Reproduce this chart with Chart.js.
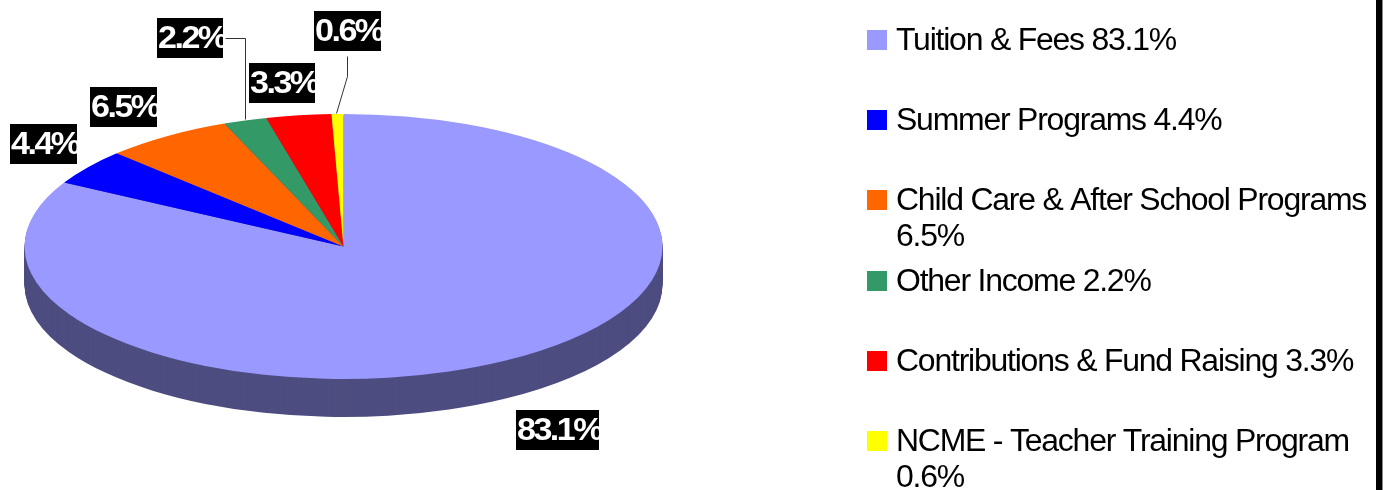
<!DOCTYPE html>
<html><head><meta charset="utf-8">
<style>html,body{margin:0;padding:0;background:#fff}canvas{display:block}</style>
<script src="https://cdn.jsdelivr.net/npm/chart.js@4/dist/chart.umd.min.js"></script>
</head><body><canvas id="c" width="1387" height="490"></canvas>
<script>
const categories = ['Tuition & Fees','Summer Programs','Child Care & After School Programs','Other Income','Contributions & Fund Raising','NCME - Teacher Training Program'];
const values = [83.1,4.4,6.5,2.2,3.3,0.6];
const colors = ['#9999FF','#0000FF','#FF6600','#339966','#FF0000','#FFFF00'];
const sideColor = '#4D4D80';
const FONT = '"Liberation Sans", Arial, sans-serif';
const PIE = {cx:343.5, cy:246.5, rx:319, ry:132.5, depth:38};
const labelBoxes = [[516,410,83,40],[10,124,67,40],[90,87,67,40],[157,18,66,40],[249,63,66,40],[314,11,67,40]];
const leaders = [null,null,null,[[225,38],[245,38],[245,119]],null,[[347,56],[347,76],[336,113]]];
const legendRows = [
  {y:40},{y:120},{y:200},{y:281},{y:361},{y:441}
];
const wrapAt = [null,null,true,null,null,true];

function applyPie(ctx, arc, dy){
  const k = PIE.ry/PIE.rx;
  ctx.translate(PIE.cx - arc.x, PIE.cy + dy - arc.y*k);
  ctx.scale(1,k);
}
function stretchedText(ctx, text, x, y, sx){
  ctx.save(); ctx.translate(x,y); ctx.scale(sx,1); ctx.fillText(text,0,0); ctx.restore();
}
const pie3d = {
  id:'pie3d',
  beforeDatasetDraw(chart){
    const ctx = chart.ctx, arcs = chart.getDatasetMeta(0).data;
    for(let d=PIE.depth;d>=1;d--){
      arcs.forEach(a=>{
        const o = a.options;
        const dark = Object.create(o);
        dark.backgroundColor = sideColor;
        dark.borderWidth = 0;
        a.options = dark;
        ctx.save(); applyPie(ctx,a,d); a.draw(ctx); ctx.restore();
        a.options = o;
      });
    }
    ctx.save(); applyPie(ctx,arcs[0],0);
  },
  afterDatasetDraw(chart){
    chart.ctx.restore();
  },
  afterDraw(chart){
    const ctx = chart.ctx;
    ctx.save();
    ctx.strokeStyle='#333'; ctx.lineWidth=1;
    leaders.forEach(l=>{
      if(!l) return;
      ctx.beginPath();
      l.forEach((p,i)=> i? ctx.lineTo(p[0]+.5,p[1]+.5):ctx.moveTo(p[0]+.5,p[1]+.5));
      ctx.stroke();
    });
    ctx.restore();
    values.forEach((v,i)=>{
      const [x,y,w,h] = labelBoxes[i];
      ctx.save();
      ctx.fillStyle='#000'; ctx.fillRect(x,y,w,h);
      ctx.beginPath(); ctx.rect(x,y,w,h); ctx.clip();
      ctx.font='bold 31px '+FONT; ctx.letterSpacing='-2.3px';
      ctx.fillStyle='#fff'; ctx.textBaseline='alphabetic'; ctx.textAlign='left';
      stretchedText(ctx,v.toFixed(1)+'%',x+1,y+30,1.1);
      ctx.restore();
    });
    ctx.save();
    ctx.font='31px '+FONT; ctx.letterSpacing='-1.17px'; ctx.textBaseline='alphabetic';
    categories.forEach((c,i)=>{
      const r = legendRows[i];
      ctx.fillStyle=colors[i]; ctx.fillRect(867,r.y-10,20,20);
      ctx.fillStyle='#000';
      const pct = values[i].toFixed(1)+'%';
      if(wrapAt[i]){
        stretchedText(ctx,c,896,r.y+10,1.03);
        stretchedText(ctx,pct,896,r.y+46,1.03);
      } else {
        stretchedText(ctx,c+' '+pct,896,r.y+10,1.03);
      }
    });
    ctx.restore();
    ctx.fillStyle='#000'; ctx.fillRect(1376,0,6,490);
    ctx.fillStyle='#888'; ctx.fillRect(1382,0,1,490);
  }
};
new Chart(document.getElementById('c'),{
  type:'pie',
  data:{labels:categories,datasets:[{data:values,backgroundColor:colors,borderWidth:0,radius:PIE.rx}]},
  options:{
    responsive:false,animation:false,
    layout:{padding:0},
    plugins:{legend:{display:false},tooltip:{enabled:false}}
  },
  plugins:[pie3d]
});
</script></body></html>
